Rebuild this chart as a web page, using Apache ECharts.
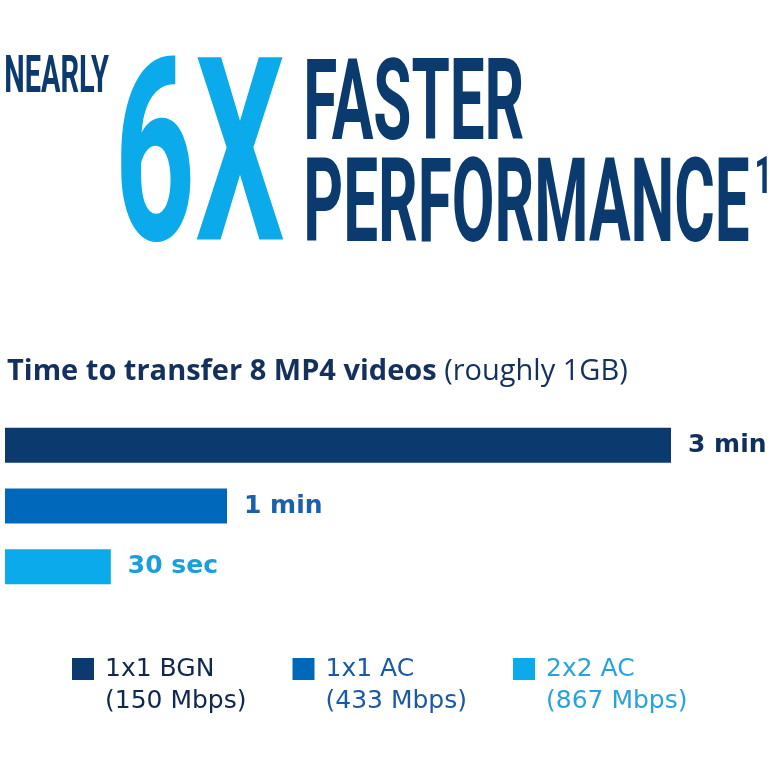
<!DOCTYPE html>
<html>
<head>
<meta charset="utf-8">
<script src="https://cdn.jsdelivr.net/npm/echarts@6/dist/echarts.min.js"></script>
<style>
html,body{margin:0;padding:0;background:#ffffff;}
#chart{width:770px;height:770px;}
</style>
</head>
<body>
<div id="chart"></div>
<script>
// ---- data ----
const categories = ['1x1 BGN', '1x1 AC', '2x2 AC'];
const rates = ['(150 Mbps)', '(433 Mbps)', '(867 Mbps)'];
const transferSeconds = [180, 60, 28.6];
const valueLabels = ['3 min', '1 min', '30 sec'];
const headlineSmall = 'NEARLY';
const headlineBig = '6X';
const headlineLine1 = 'FASTER';
const headlineLine2 = 'PERFORMANCE';
const footnoteMark = '1';
const subtitleBold = 'Time to transfer 8 MP4 videos';
const subtitleNormal = '(roughly 1GB)';

// ---- styles ----
const NAVY = '#0a3a6e';
const MID = '#0068bb';
const LIGHT = '#0aaaeb';
const barColors = [NAVY, MID, LIGHT];
const labelColors = ['#0e2f5f', '#1a60ab', '#1b9edb'];
const legendColors = ['#10284f', '#1a5aa5', '#27a3df'];

const cv = document.createElement('canvas');
const ctx = cv.getContext('2d');

// Fit a single line of text into an ink box (left, capTop, right, bottom)
function fitText(text, weight, family, L, T, R, B, color) {
  const f100 = weight + ' 100px ' + family;
  ctx.font = f100;
  ctx.textBaseline = 'alphabetic';
  const m = ctx.measureText(text);
  const asc = m.actualBoundingBoxAscent, desc = m.actualBoundingBoxDescent;
  const inkL = m.actualBoundingBoxLeft, inkR = m.actualBoundingBoxRight;
  ctx.textBaseline = 'middle';
  const mm = ctx.measureText(text);
  const midAbove = asc - mm.actualBoundingBoxAscent; // middle line above baseline
  const k = (B - T) / (asc + desc);
  const fs = 100 * k;
  const baseline = T + asc * k;
  const yc = baseline - midAbove * k;
  const s = (R - L) / ((inkL + inkR) * k);
  const x = L + s * inkL * k;
  return {
    type: 'text', x: x, y: yc, scaleX: s, scaleY: 1, silent: true,
    style: { text: text, font: weight + ' ' + fs + 'px ' + family, fill: color, align: 'left', verticalAlign: 'middle' }
  };
}

function midAboveBaseline(font) {
  ctx.font = font;
  ctx.textBaseline = 'alphabetic';
  const a = ctx.measureText('H').actualBoundingBoxAscent;
  ctx.textBaseline = 'middle';
  const b = ctx.measureText('H').actualBoundingBoxAscent;
  return a - b;
}

const HEAD_FAMILY = 'Roboto';
const graphics = [
  fitText(headlineSmall, 'bold', HEAD_FAMILY, 6, 55, 109, 93, NAVY),
  fitText(headlineBig, 'bold', HEAD_FAMILY, 120, 55, 284, 242, LIGHT),
  fitText(headlineLine1, 'bold', HEAD_FAMILY, 307, 56, 523, 140, NAVY),
  fitText(headlineLine2, 'bold', HEAD_FAMILY, 307, 155, 749, 242, NAVY),
  fitText(footnoteMark, 'bold', HEAD_FAMILY, 757, 156, 767, 193, NAVY)
];

// subtitle
const subFontB = "bold 29px 'Open Sans'";
const subFontN = "normal 29px 'Open Sans'";
const subBaseline = 380;
graphics.push({
  type: 'text', x: 7, y: subBaseline - midAboveBaseline(subFontB), silent: true,
  style: {
    text: '{b|' + subtitleBold + '}{n| ' + subtitleNormal + '}',
    align: 'left', verticalAlign: 'middle',
    rich: {
      b: { font: subFontB, fill: '#14305d', lineHeight: 40 },
      n: { font: subFontN, fill: '#14305d', lineHeight: 40 }
    }
  }
});

const seriesNames = categories.map((c, i) => c + '\n' + rates[i]);

const option = {
  animation: false,
  backgroundColor: '#ffffff',
  graphic: graphics,
  grid: { left: 5, width: 666, top: 415, height: 182, containLabel: false },
  xAxis: { type: 'value', min: 0, max: 180, show: false },
  yAxis: { type: 'category', data: categories, inverse: true, show: false },
  legend: {
    left: 72, top: 621, padding: 0,
    itemWidth: 22, itemHeight: 22, itemGap: 46,
    icon: 'rect', selectedMode: false,
    formatter: n => '\n' + n,
    textStyle: { fontFamily: 'DejaVu Sans', fontSize: 25, lineHeight: 32, padding: [0, 0, 0, 6] },
    data: seriesNames.map((n, i) => ({ name: n, textStyle: { color: legendColors[i] } }))
  },
  series: categories.map((c, i) => ({
    name: seriesNames[i],
    type: 'bar',
    stack: 'time',
    barWidth: 35,
    itemStyle: { color: barColors[i] },
    label: {
      show: true, position: 'right', distance: 17,
      formatter: valueLabels[i],
      color: labelColors[i], fontFamily: 'DejaVu Sans', fontWeight: 'bold', fontSize: 25
    },
    data: transferSeconds.map((v, j) => (j === i ? v : '-'))
  }))
};

const chart = echarts.init(document.getElementById('chart'), null, { renderer: 'canvas' });
chart.setOption(option);
</script>
</body>
</html>
